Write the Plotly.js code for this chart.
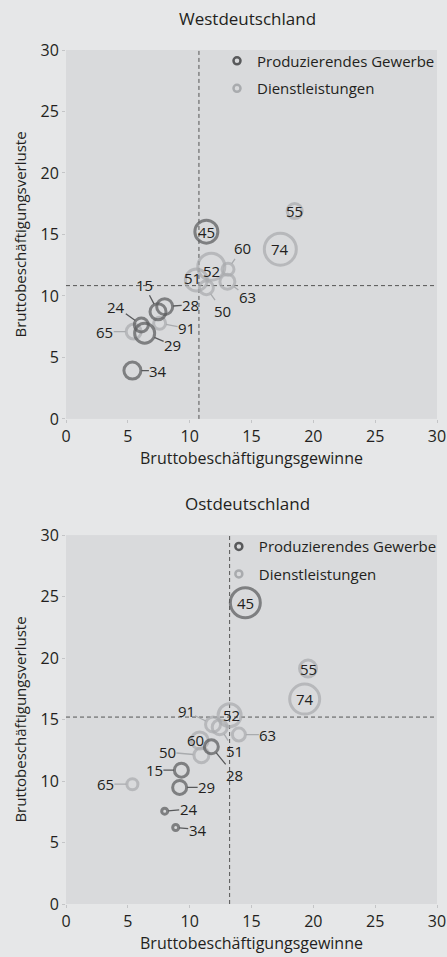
<!DOCTYPE html>
<html>
<head>
<meta charset="utf-8">
<script src="https://cdn.plot.ly/plotly-3.0.1.min.js"></script>
<style>
html,body{margin:0;padding:0;background:#e6e7e8;}
#chart{width:447px;height:957px;}
</style>
</head>
<body>
<div id="chart"></div>
<script>
// ---------- DATA ----------
const legendNames = ['Produzierendes Gewerbe', 'Dienstleistungen'];
const panelTitles = ['Westdeutschland', 'Ostdeutschland'];
const xAxisTitle = 'Bruttobeschäftigungsgewinne';
const yAxisTitle = 'Bruttobeschäftigungsverluste';

// Westdeutschland
const westProdCodes = ['15', '24', '28', '29', '34', '45'];
const westProdGewinne = [7.44, 6.09, 7.98, 6.36, 5.37, 11.35];
const westProdVerluste = [8.72, 7.64, 9.13, 6.97, 3.93, 15.23];
const westProdGewicht = [19, 17, 19, 23, 20, 26];

const westDienstCodes = ['50', '51', '52', '55', '60', '63', '65', '74', '91'];
const westDienstGewinne = [11.35, 10.54, 11.75, 18.49, 13.1, 13.05, 5.47, 17.33, 7.57];
const westDienstVerluste = [10.67, 11.3, 12.38, 16.9, 12.17, 11.16, 7.1, 13.8, 7.78];
const westDienstGewicht = [17, 25, 30, 18, 15, 18, 18, 35, 15];

const westMittel = [10.75, 10.84]; // [Gewinne, Verluste]

// Ostdeutschland
const ostProdCodes = ['15', '24', '28', '29', '34', '45'];
const ostProdGewinne = [9.33, 7.98, 11.75, 9.19, 8.87, 14.5];
const ostProdVerluste = [10.88, 7.55, 12.78, 9.48, 6.22, 24.5];
const ostProdGewicht = [17, 9, 17, 17, 9, 33];

const ostDienstCodes = ['50', '51', '52', '55', '60', '63', '65', '74', '91'];
const ostDienstGewinne = [10.95, 12.43, 13.23, 19.57, 10.81, 13.98, 5.37, 19.3, 11.89];
const ostDienstVerluste = [12.1, 14.38, 15.35, 19.15, 13.3, 13.78, 9.74, 16.66, 14.6];
const ostDienstGewicht = [18, 18, 26, 20, 20, 16, 14, 33, 18];

const ostMittel = [13.23, 15.2];

const tickVals = [0, 5, 10, 15, 20, 25, 30];

// ---------- STYLE ----------
const DARK = '#58595b';
const LIGHT = '#a9abae';
const TXT = '#231f20';
const FONT = 'Open Sans, sans-serif';
const LW = 3;

// label placement (pixel offsets from bubble centre); 'in' = no leader line
const westLabelPos = {
  '15': [-14, -27], '24': [-25, -18], '28': [26, -2], '29': [28, 12], '34': [26, 0], '45': [0, 0, 'in'],
  '50': [16, 23], '51': [-4, -2, 'in'], '52': [0, 4, 'in'], '55': [0, 0, 'in'], '60': [14, -21],
  '63': [20, 15], '65': [-29, 0], '74': [0, 0, 'in'], '91': [27, 5]
};
const ostLabelPos = {
  '15': [-27, 0], '24': [24, -2], '28': [23, 28], '29': [27, 0], '34': [22, 2], '45': [0, 0, 'in'],
  '50': [-34, -3], '51': [15, 24], '52': [2, 0, 'in'], '55': [0, 0, 'in'], '60': [-4, 0, 'in'],
  '63': [29, 0], '65': [-27, 0], '74': [0, 0, 'in'], '91': [-27, -13]
};

function bubbleTrace(xs, ys, ws, color, xa, ya, name) {
  return {
    type: 'scatter', mode: 'markers', x: xs, y: ys, xaxis: xa, yaxis: ya,
    name: name, showlegend: false, hoverinfo: 'skip',
    marker: { symbol: 'circle', size: ws.map(w => w - LW), color: 'rgba(0,0,0,0)',
              line: { color: color, width: LW } }
  };
}
function legendTrace(name, color, xa, ya, leg) {
  return {
    type: 'scatter', mode: 'markers', x: [null], y: [null], xaxis: xa, yaxis: ya,
    name: name, legend: leg, showlegend: true, legendgroup: leg + name,
    marker: { symbol: 'circle', size: 7, color: 'rgba(0,0,0,0)', line: { color: color, width: 2.5 } }
  };
}

function labels(codes, xs, ys, ws, color, xr, yr, pos) {
  return codes.map((c, i) => {
    const p = pos[c];
    const base = { x: xs[i], y: ys[i], xref: xr, yref: yr, text: c,
      font: { family: FONT, size: 15, color: TXT } };
    if (p[2] === 'in') {
      return Object.assign(base, { showarrow: false, xshift: p[0], yshift: -p[1] });
    }
    return Object.assign(base, { showarrow: true, ax: p[0], ay: p[1], arrowhead: 0,
      arrowwidth: 1.3, arrowcolor: color, standoff: ws[i] / 2 - 1, borderpad: 0 });
  });
}

const traces = [
  bubbleTrace(westDienstGewinne, westDienstVerluste, westDienstGewicht, LIGHT, 'x', 'y', legendNames[1]),
  bubbleTrace(westProdGewinne, westProdVerluste, westProdGewicht, DARK, 'x', 'y', legendNames[0]),
  bubbleTrace(ostDienstGewinne, ostDienstVerluste, ostDienstGewicht, LIGHT, 'x2', 'y2', legendNames[1]),
  bubbleTrace(ostProdGewinne, ostProdVerluste, ostProdGewicht, DARK, 'x2', 'y2', legendNames[0]),
  legendTrace(legendNames[0], DARK, 'x', 'y', 'legend'),
  legendTrace(legendNames[1], LIGHT, 'x', 'y', 'legend'),
  legendTrace(legendNames[0], DARK, 'x2', 'y2', 'legend2'),
  legendTrace(legendNames[1], LIGHT, 'x2', 'y2', 'legend2')
];

function xAxis(anchor) {
  return { domain: [0, 1], range: [0, 30], anchor: anchor, tickvals: tickVals, showgrid: false,
    zeroline: false, showline: false, ticks: 'outside', ticklen: 3, tickcolor: '#c4c5c7',
    tickfont: { family: FONT, size: 16, color: TXT },
    title: { text: xAxisTitle, font: { family: FONT, size: 16, color: TXT }, standoff: 6 } };
}
function yAxis(anchor, dom) {
  return { domain: dom, range: [0, 30], anchor: anchor, tickvals: tickVals, showgrid: false,
    zeroline: false, showline: false, ticks: 'outside', ticklen: 3, tickcolor: '#c4c5c7',
    tickfont: { family: FONT, size: 16, color: TXT },
    title: { text: yAxisTitle, font: { family: FONT, size: 15, color: TXT }, standoff: 10 } };
}

function dashShapes(m, xr, yr) {
  return [
    { type: 'line', xref: xr, yref: yr + ' domain', x0: m[0], x1: m[0], y0: 0, y1: 1,
      line: { color: '#555', width: 1, dash: '4px,3px' }, layer: 'below' },
    { type: 'line', xref: xr + ' domain', yref: yr, x0: 0, x1: 1, y0: m[1], y1: m[1],
      line: { color: '#555', width: 1, dash: '4px,3px' }, layer: 'below' }
  ];
}

const legendStyle = { bgcolor: 'rgba(0,0,0,0)', borderwidth: 0, xanchor: 'left', yanchor: 'top',
  font: { family: FONT, size: 15, color: TXT }, itemwidth: 30, tracegroupgap: 5 };

const layout = {
  width: 447, height: 957,
  margin: { l: 66, r: 10, t: 50, b: 53, autoexpand: false },
  paper_bgcolor: '#e6e7e8', plot_bgcolor: '#d9dadc',
  font: { family: FONT, color: TXT },
  xaxis: xAxis('y'),
  yaxis: yAxis('x', [0.568, 1]),
  xaxis2: xAxis('y2'),
  yaxis2: yAxis('x2', [0, 0.432]),
  showlegend: true,
  legend: Object.assign({}, legendStyle, { x: 0.407, y: 1.0064 }),
  legend2: Object.assign({}, legendStyle, { x: 0.412, y: 0.4377 }),
  shapes: dashShapes(westMittel, 'x', 'y').concat(dashShapes(ostMittel, 'x2', 'y2')),
  annotations: [
    { text: panelTitles[0], xref: 'paper', yref: 'paper', x: 0.49, y: 1.0, yshift: 32, yanchor: 'middle',
      showarrow: false, font: { family: FONT, size: 17, color: TXT } },
    { text: panelTitles[1], xref: 'paper', yref: 'paper', x: 0.49, y: 0.432, yshift: 32, yanchor: 'middle',
      showarrow: false, font: { family: FONT, size: 17, color: TXT } }
  ]
  .concat(labels(westDienstCodes, westDienstGewinne, westDienstVerluste, westDienstGewicht, LIGHT, 'x', 'y', westLabelPos))
  .concat(labels(westProdCodes, westProdGewinne, westProdVerluste, westProdGewicht, DARK, 'x', 'y', westLabelPos))
  .concat(labels(ostDienstCodes, ostDienstGewinne, ostDienstVerluste, ostDienstGewicht, LIGHT, 'x2', 'y2', ostLabelPos))
  .concat(labels(ostProdCodes, ostProdGewinne, ostProdVerluste, ostProdGewicht, DARK, 'x2', 'y2', ostLabelPos))
};

Plotly.newPlot('chart', traces, layout, { displayModeBar: false, staticPlot: true });
</script>
</body>
</html>
